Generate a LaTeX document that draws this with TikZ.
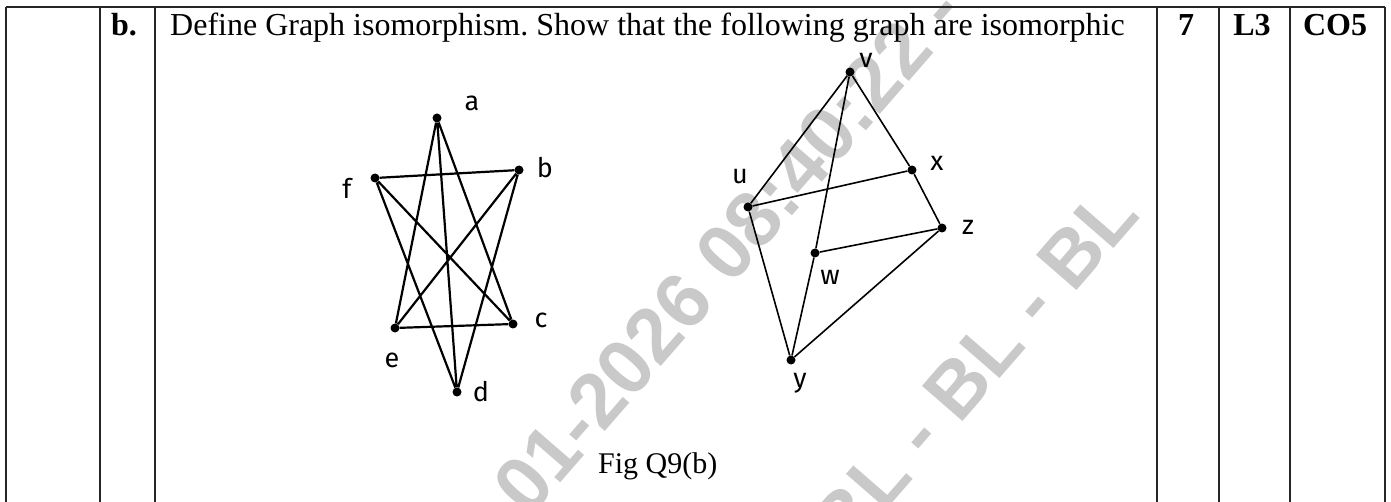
\documentclass[tikz,border=0pt]{standalone}
\usepackage{fontspec}
\setmainfont{Liberation Serif}
\newfontfamily\handfont{Fira Sans}
\newfontfamily\markfont{Liberation Sans}
\frenchspacing
\tikzset{
    vtx/.style={circle, fill=black, inner sep=0pt, minimum size=9pt},
    lbl/.style={font=\handfont\fontsize{27}{27}\selectfont, inner sep=0pt},
    rule/.style={line width=2.4pt, black!85},
    head/.style={font=\bfseries\fontsize{32}{38}\selectfont, anchor=base, inner sep=0pt},
    wmark/.style={font=\markfont\bfseries\fontsize{78}{78}\selectfont, text=black!21,
        rotate=49, inner sep=0pt},
}

\begin{document}
\begin{tikzpicture}[x=1pt, y=-1pt]
  \useasboundingbox (0,0) rectangle (1391,502);

  % Wasserzeichen
  \node[wmark, anchor=base west] (wmA) at (529,519) {01-2026 08:40:22 - BL - BL - BL};
  \node[wmark, anchor=base east] (wmB) at (1142,216) {08:40:22 - BL - BL - BL};

  % Tabelle
  \draw[rule] (6,7) -- (1385,7);
  \foreach \x in {6,100,155,1157,1219,1290,1385}
    \draw[rule] (\x,7) -- (\x,502);

  % Kopfzeile
  \node[head] (qno) at (124,36) {b.};
  \node[font=\fontsize{32}{38}\selectfont, anchor=base west, inner sep=0pt] (qtext) at (170,36)
    {Define Graph isomorphism. Show that the following graph are isomorphic};
  \node[head] (marks) at (1186,36) {7};
  \node[head] (level) at (1252,36) {L3};
  \node[head] (co) at (1335,36) {CO5};

  % Graph G
  \node[vtx] (a) at (437,118) {};
  \node[vtx] (b) at (519,170) {};
  \node[vtx] (f) at (375,178) {};
  \node[vtx] (e) at (395,328) {};
  \node[vtx] (c) at (513,324) {};
  \node[vtx] (d) at (457,392) {};
  \draw[line width=2.2pt] (a) -- (e) (a) -- (d) (a) -- (c)
    (f) -- (b) (f) -- (c) (f) -- (d)
    (b) -- (e) (b) -- (d) (e) -- (c);
  \node[lbl] (la) at (472,103) {a};
  \node[lbl] (lb) at (545,168) {b};
  \node[lbl] (lf) at (347,188) {f};
  \node[lbl] (lc) at (541,320) {c};
  \node[lbl] (le) at (392,360) {e};
  \node[lbl] (ld) at (481,392) {d};

  % Graph H
  \node[vtx] (v) at (850,72) {};
  \node[vtx] (u) at (748,207) {};
  \node[vtx] (x) at (912,170) {};
  \node[vtx] (z) at (942,228) {};
  \node[vtx] (w) at (815,253) {};
  \node[vtx] (y) at (791,360) {};
  \draw[line width=1.6pt] (v) -- (u) (v) -- (w) (w) -- (y)
    (v) -- (x) (x) -- (z) (u) -- (x)
    (w) -- (z) (u) -- (y) (y) -- (z);
  \node[lbl] (lv) at (866,60) {v};
  \node[lbl] (lu) at (740,177) {u};
  \node[lbl] (lx) at (937,163) {x};
  \node[lbl] (lz) at (968,227) {z};
  \node[lbl] (lw) at (830,277) {w};
  \node[lbl] (ly) at (800,383) {y};

  % Beschriftung
  \node[font=\fontsize{30}{36}\selectfont, anchor=base west, inner sep=0pt] (cap) at (598,473) {Fig Q9(b)};

\end{tikzpicture}
\end{document}
